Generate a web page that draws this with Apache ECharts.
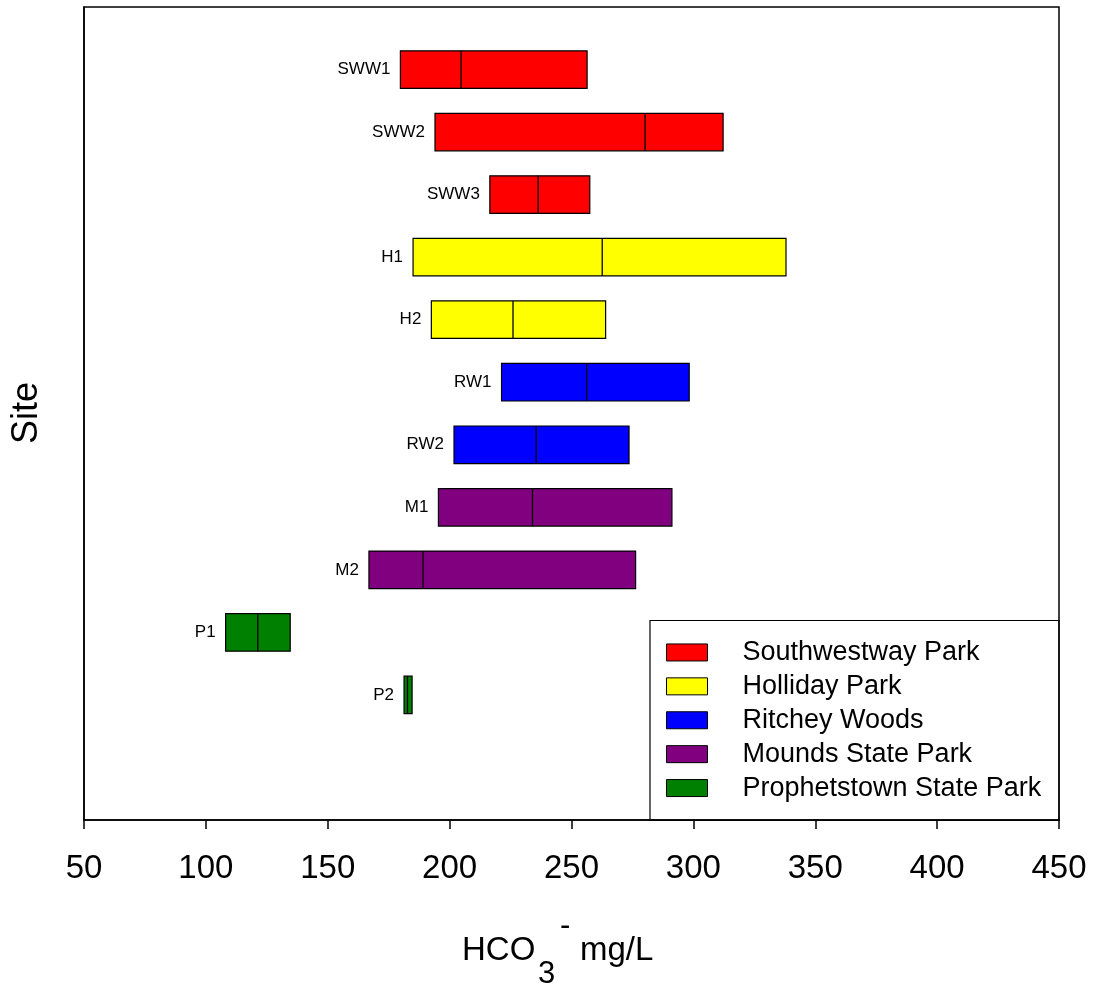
<!DOCTYPE html>
<html>
<head>
<meta charset="utf-8">
<script src="https://cdn.jsdelivr.net/npm/echarts@6/dist/echarts.min.js"></script>
<style>html,body{margin:0;padding:0;background:#fff;}#c{width:1096px;height:990px;}</style>
</head>
<body>
<div id="c"></div>
<script>
// ---- data ----
const sites   = ['SWW1','SWW2','SWW3','H1','H2','RW1','RW2','M1','M2','P1','P2'];
const siteGroup = ['Southwestway Park','Southwestway Park','Southwestway Park','Holliday Park','Holliday Park','Ritchey Woods','Ritchey Woods','Mounds State Park','Mounds State Park','Prophetstown State Park','Prophetstown State Park'];
const minVals = [179.8, 194.0, 216.5, 185.0, 192.5, 221.3, 201.8, 195.4, 166.9, 108.1, 181.3];
const medVals = [204.7, 280.2, 236.3, 262.6, 226.0, 256.2, 235.5, 234.0, 189.1, 121.3, 182.7];
const maxVals = [256.4, 312.2, 257.5, 338.0, 264.0, 298.3, 273.6, 291.2, 276.3, 134.6, 184.6];
const parks   = ['Southwestway Park','Holliday Park','Ritchey Woods','Mounds State Park','Prophetstown State Park'];
const xTicks  = [50,100,150,200,250,300,350,400,450];

// ---- styles ----
const parkColors = ['#ff0000','#ffff00','#0000ff','#800080','#008000'];
const FONT = '"Liberation Sans", Arial, Helvetica, sans-serif';

const chart = echarts.init(document.getElementById('c'), null, {renderer:'canvas'});

function renderItem(params, api){
  const pos = api.value(0);
  const lo = api.value(1), med = api.value(2), hi = api.value(3);
  const name = sites[pos - 1];
  const p0 = api.coord([lo, pos]);
  const p1 = api.coord([hi, pos]);
  const pm = api.coord([med, pos]);
  const h = api.size([0, 0.6])[1];
  return {
    type: 'group',
    children: [
      {type:'rect', shape:{x:p0[0], y:p0[1]-h/2, width:p1[0]-p0[0], height:h},
       style:{fill: api.visual('color'), stroke:'#000', lineWidth:1.2}},
      {type:'line', shape:{x1:pm[0], y1:p0[1]-h/2, x2:pm[0], y2:p0[1]+h/2},
       style:{stroke:'#000', lineWidth:1.3}},
      {type:'text', style:{text:name, x:p0[0]-10, y:p0[1], align:'right', verticalAlign:'middle',
        font:'17px ' + FONT, fill:'#000'}}
    ]
  };
}

const series = parks.map((park, k) => ({
  name: park,
  type: 'custom',
  renderItem: renderItem,
  itemStyle: {color: parkColors[k], borderColor:'#000', borderWidth:1},
  encode: {x:[1,2,3], y:0},
  data: sites.map((s,i) => i).filter(i => siteGroup[i] === park)
             .map(i => [i+1, minVals[i], medVals[i], maxVals[i]])
}));

const option = {
  animation: false,
  backgroundColor: '#fff',
  grid: {left:84, top:7, right:37, bottom:170, show:true, borderColor:'#000', borderWidth:1.5, backgroundColor:'transparent'},
  xAxis: {
    type:'value', position:'bottom', min: xTicks[0], max: xTicks[xTicks.length-1], interval: 50,
    axisLine:{show:true, onZero:false, lineStyle:{color:'#000', width:1.5}},
    axisTick:{show:true, length:9, inside:false, lineStyle:{color:'#000', width:1.5}},
    axisLabel:{fontSize:33, fontFamily:FONT, color:'#000', margin:32},
    splitLine:{show:false}
  },
  yAxis: {
    type:'value', min:0, max:13, inverse:true,
    axisLine:{show:true, onZero:false, lineStyle:{color:'#000', width:1.5}},
    axisTick:{show:false}, axisLabel:{show:false}, splitLine:{show:false}
  },
  legend: {
    orient:'vertical', left:661, top:630.5, icon:'rect',
    itemWidth:41, itemHeight:17, itemGap:0, selectedMode:false,
    itemStyle:{borderColor:'#000', borderWidth:1},
    textStyle:{fontSize:27, fontFamily:FONT, color:'#000', lineHeight:33.9, padding:[0,0,0,30]},
    data: parks
  },
  graphic: [
    {type:'rect', z:-1, shape:{x:650, y:620.5, width:409, height:200},
     style:{fill:'#fff', stroke:'#000', lineWidth:1.2}},
    {type:'text', style:{text:'Site', x:27, y:413, align:'center', verticalAlign:'middle', font:'36px ' + FONT, fill:'#000'}, rotation: Math.PI/2, originX:27, originY:413},
    {type:'text', style:{text:'HCO', x:462, y:951, align:'left', verticalAlign:'middle', font:'33px ' + FONT, fill:'#000'}},
    {type:'text', style:{text:'3', x:538, y:974, align:'left', verticalAlign:'middle', font:'31px ' + FONT, fill:'#000'}},
    {type:'text', style:{text:'-', x:560, y:926, align:'left', verticalAlign:'middle', font:'31px ' + FONT, fill:'#000'}},
    {type:'text', style:{text:'mg/L', x:580, y:951, align:'left', verticalAlign:'middle', font:'33px ' + FONT, fill:'#000'}}
  ],
  series: series
};
chart.setOption(option);
</script>
</body>
</html>
